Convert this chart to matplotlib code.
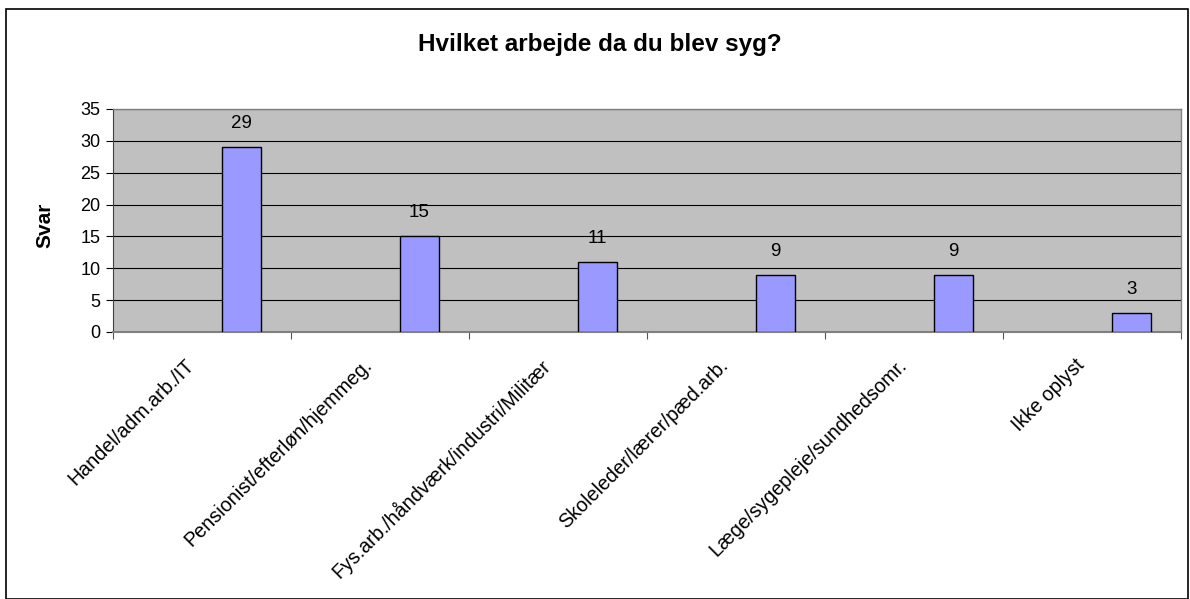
import matplotlib
matplotlib.use("Agg")
import matplotlib.pyplot as plt
from matplotlib.patches import Rectangle

categories = ["Handel/adm.arb./IT", "Pensionist/efterløn/hjemmeg.",
              "Fys.arb./håndværk/industri/Militær", "Skoleleder/lærer/pæd.arb.",
              "Læge/sygepleje/sundhedsomr.", "Ikke oplyst"]
values = [29, 15, 11, 9, 9, 3]
yticks = [0, 5, 10, 15, 20, 25, 30, 35]
title = "Hvilket arbejde da du blev syg?"
ylabel = "Svar"

plt.rcParams['font.family'] = ['Liberation Sans', 'DejaVu Sans']

W, H = 1190, 599
fig = plt.figure(figsize=(W / 100, H / 100), dpi=100)
fig.patch.set_facecolor('white')

# outer frame
fig.add_artist(Rectangle((6 / W, 0), (1188 - 6) / W, 1 - 9 / H, transform=fig.transFigure,
                         fill=False, edgecolor='black', linewidth=1.2))

left, right, top, bottom = 113, 1181, 109, 332
ax = fig.add_axes([left / W, 1 - bottom / H, (right - left) / W, (bottom - top) / H])
ax.set_facecolor('#C0C0C0')

n = len(categories)
xs = list(range(n))
bw = 0.222
offset = 0.222
ax.bar([x + offset for x in xs], values, width=bw, color='#9999FF',
       edgecolor='black', linewidth=1.0, zorder=3)
for x, v in zip(xs, values):
    ax.annotate(str(v), (x + offset, v), xytext=(0, 15), textcoords='offset pixels',
                ha='center', va='bottom', fontsize=13.5, color='black')

ax.set_xlim(-0.5, n - 0.5)
ax.set_ylim(0, 35)
ax.set_yticks(yticks)
ax.yaxis.grid(True, color='black', linewidth=0.8, zorder=1)
ax.set_axisbelow(True)
ax.tick_params(axis='y', labelsize=13, length=5, width=0.8, direction='out', pad=4)

# category boundary ticks
ax.set_xticks([x - 0.5 for x in xs] + [n - 0.5])
ax.set_xticklabels([])
ax.tick_params(axis='x', length=5, width=0.8, direction='out', color='#555555')
for x, lab in zip(xs, categories):
    ax.text(x - 0.06, -0.135, lab, transform=ax.get_xaxis_transform(), rotation=45,
            rotation_mode='anchor', ha='right', va='center', fontsize=14.2)

for s in ['top', 'right']:
    ax.spines[s].set_color('#808080')
    ax.spines[s].set_linewidth(1.0)
ax.spines['left'].set_color('#404040')
ax.spines['bottom'].set_color('#808080')
ax.spines['bottom'].set_linewidth(1.5)

fig.text(600 / W, 1 - 45 / H, title, ha='center', va='center', fontsize=17.5,
         fontweight='bold')
fig.text(45 / W, 1 - 225 / H, ylabel, ha='center', va='center', rotation=90,
         fontsize=15, fontweight='bold')

fig.savefig('out.png', dpi=100)
